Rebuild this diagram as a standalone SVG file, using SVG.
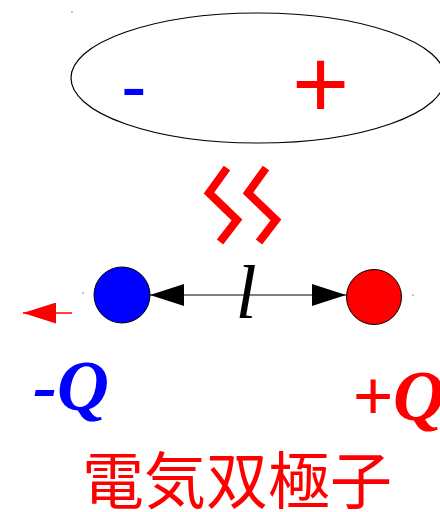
<svg xmlns="http://www.w3.org/2000/svg" width="440" height="512" viewBox="0 0 440 512">
<style>
.sym{font-family:"Liberation Sans","DejaVu Sans",sans-serif;}
.q{font-family:"Liberation Serif","DejaVu Serif",serif;font-weight:bold;font-style:italic;font-size:72px;}
.zig{fill:none;stroke:#ff0000;stroke-width:8;stroke-linejoin:miter;}
.dot{fill:#000;}
</style>
<defs>
<marker id="ah" viewBox="0 0 34 22" refX="34" refY="11" markerWidth="34" markerHeight="22" markerUnits="userSpaceOnUse" orient="auto-start-reverse">
<path d="M0,0 L34,11 L0,22 Z" fill="#000"/>
</marker>
<marker id="rah" viewBox="0 0 33 21" refX="33" refY="10.5" markerWidth="33" markerHeight="21" markerUnits="userSpaceOnUse" orient="auto">
<path d="M0,0 L33,10.5 L0,21 Z" fill="#ff0000"/>
</marker>
</defs>
<rect width="440" height="512" fill="#fff"/>
<g id="molecule">
<ellipse cx="258" cy="78" rx="187" ry="65" fill="none" stroke="#000" stroke-width="1.2"/>
<text class="sym" x="121" y="113" font-size="77" fill="#0000ff">-</text>
<text class="sym" x="292" y="118" font-size="98" fill="#ff0000">+</text>
</g>
<g id="zigzag">
<polyline class="zig" points="227,168 209,193 237,220 220,242"/>
<polyline class="zig" points="266,168 248,193 276,220 259,242"/>
</g>
<g id="connectors">
<line x1="150" y1="295" x2="346" y2="295" stroke="#000" stroke-width="1" marker-start="url(#ah)" marker-end="url(#ah)"/>
<line x1="72" y1="313" x2="23" y2="313" stroke="#ff0000" stroke-width="1.5" marker-end="url(#rah)"/>
</g>
<g id="neg-charge">
<circle cx="122" cy="295" r="28" fill="#0000ff" stroke="#000" stroke-width="1"/>
<text class="q" x="33" y="410" fill="#0000ff">-Q</text>
</g>
<g id="pos-charge">
<circle cx="374" cy="297" r="27.5" fill="#ff0000" stroke="#000" stroke-width="1"/>
<text class="q" x="352" y="420" fill="#ff0000">+Q</text>
</g>
<g id="length-label">
<text x="246" y="318" text-anchor="middle" font-family="Liberation Serif,DejaVu Serif,serif" font-style="italic" font-size="76" fill="#000">l</text>
</g>
<circle class="dot" cx="72" cy="12" r="0.6"/>
<circle class="dot" cx="83" cy="293" r="0.6"/>
<circle class="dot" cx="413" cy="295" r="0.6"/>
<g id="title">
<text x="237" y="504" text-anchor="middle" font-family="Noto Sans CJK JP,sans-serif" font-size="62" fill="#ff0000">電気双極子</text>
</g>
</svg>
